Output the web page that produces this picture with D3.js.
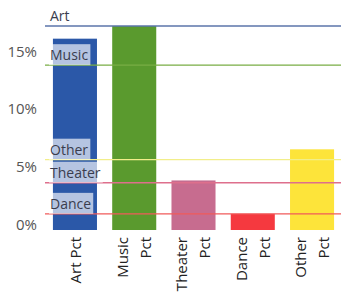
<!DOCTYPE html>
<html>
<head>
<meta charset="utf-8">
<script src="https://cdn.jsdelivr.net/npm/d3@7"></script>
<style>
  body { margin: 0; background: #fff; }
  text { font-family: "Open Sans", sans-serif; }
</style>
</head>
<body>
<svg id="chart" width="341" height="292"></svg>
<script>
// bar data
var categories = ["Art Pct", "Music Pct", "Theater Pct", "Dance Pct", "Other Pct"];
var catLines = [["Art Pct"], ["Music", "Pct"], ["Theater", "Pct"], ["Dance", "Pct"], ["Other", "Pct"]];
var pctValues = [16.1, 17.2, 3.8, 0.9, 6.5];
var barColors = ["#2b58a8", "#5a9a2e", "#c76c8f", "#f5393f", "#fde43a"];

// reference lines
var refNames = ["Art", "Music", "Other", "Theater", "Dance"];
var refValues = [17.2, 13.8, 5.6, 3.6, 0.9];
var refColors = ["#5b74aa", "#79ad45", "#f2ee8a", "#de6f8c", "#f05a5a"];

var yTicks = [0, 5, 10, 15];

var svg = d3.select("#chart");

var x = d3.scaleBand().domain(categories).range([47, 340])
  .paddingInner(0.257).paddingOuter(0.1);
var y = d3.scaleLinear().domain([-0.5, 17.2]).range([230, 26]);

// y axis labels only
var yAxis = svg.append("g")
  .attr("transform", "translate(39,0)")
  .call(d3.axisLeft(y).tickValues(yTicks).tickSize(0).tickPadding(2)
    .tickFormat(function(d) { return d + "%"; }));
yAxis.select(".domain").remove();
yAxis.selectAll("text")
  .attr("fill", "#555")
  .style("font-size", "15px")
  .style("font-family", "'Open Sans', sans-serif");

// bars
svg.selectAll(".bar")
  .data(pctValues)
  .enter().append("rect")
    .attr("class", "bar")
    .attr("x", function(d, i) { return x(categories[i]); })
    .attr("y", function(d) { return y(d); })
    .attr("width", x.bandwidth())
    .attr("height", function(d) { return y(-0.5) - y(d); })
    .attr("fill", function(d, i) { return barColors[i]; });

// reference lines
svg.selectAll(".ref")
  .data(refValues)
  .enter().append("line")
    .attr("class", "ref")
    .attr("x1", 45).attr("x2", 341)
    .attr("y1", function(d) { return y(d); })
    .attr("y2", function(d) { return y(d); })
    .attr("stroke", function(d, i) { return refColors[i]; })
    .attr("stroke-width", 1.3);

// labels for the lines, on a pale box
var lab = svg.selectAll(".reflab")
  .data(refValues)
  .enter().append("g")
    .attr("class", "reflab")
    .attr("transform", function(d) { return "translate(50," + (y(d) - 10) + ")"; });

lab.append("text")
  .attr("x", 0)
  .attr("dy", "0.35em")
  .attr("fill", "#3a3d4e")
  .style("font-size", "14px")
  .text(function(d, i) { return refNames[i]; });

lab.each(function(d, i) {
  if (i == 0) return;
  var g = d3.select(this);
  var bb = g.select("text").node().getBBox();
  g.insert("rect", "text")
    .attr("x", bb.x - 1).attr("y", -11)
    .attr("width", bb.width + 3).attr("height", 21)
    .attr("fill", "#fff").attr("opacity", 0.65);
});

// x labels, rotated
var xl = svg.selectAll(".xlab")
  .data(catLines)
  .enter().append("g")
    .attr("class", "xlab");

xl.each(function(lines, i) {
  var cx = x(categories[i]) + x.bandwidth() / 2;
  var n = lines.length;
  lines.forEach(function(t, j) {
    var off = n == 1 ? 1 : (j == 0 ? -11.5 : 11.5);
    d3.select(this).append("text")
      .attr("transform", "translate(" + (cx + off) + ",237) rotate(-90)")
      .attr("text-anchor", "end")
      .attr("dy", "0.35em")
      .attr("fill", "#222")
      .style("font-size", "15px")
      .text(t);
  }, this);
});
</script>
</body>
</html>
